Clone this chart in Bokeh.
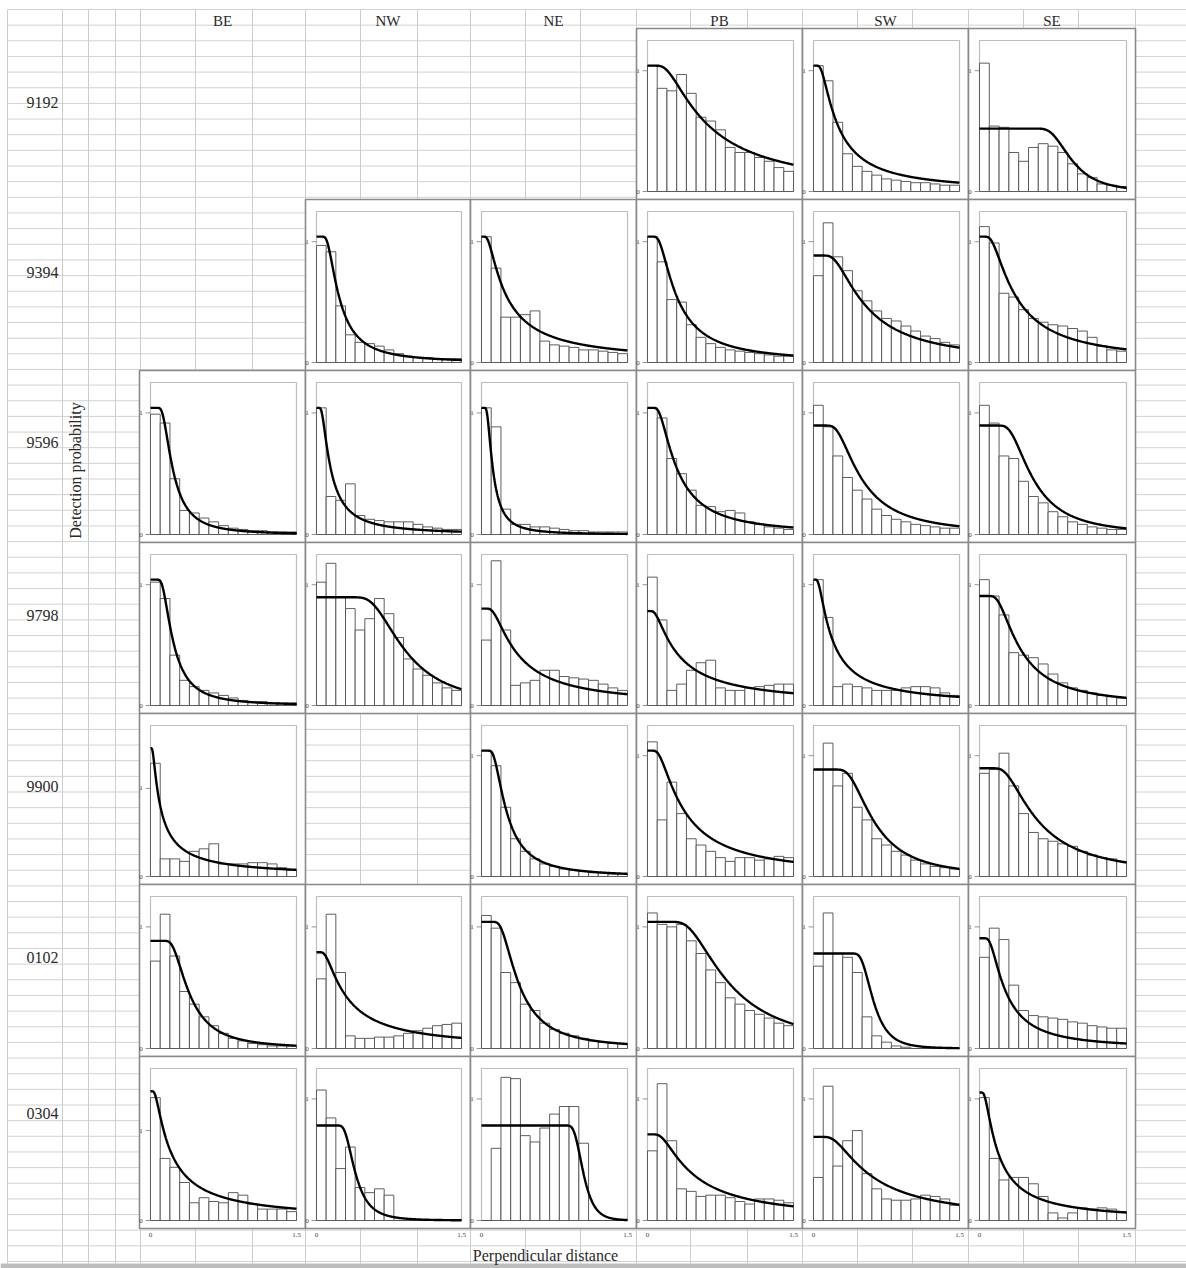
import numpy as np
from bokeh.plotting import figure
from bokeh.models import Range1d
from bokeh.core.properties import value
from bokeh.embed import file_html
from bokeh.resources import INLINE

# ---------------- data ----------------
years = ["9192", "9394", "9596", "9798", "9900", "0102", "0304"]
regions = ["BE", "NW", "NE", "PB", "SW", "SE"]
bin_edges = [0.0, 0.1, 0.2, 0.3, 0.4, 0.5, 0.6, 0.7, 0.8, 0.9, 1.0, 1.1, 1.2, 1.3, 1.4, 1.5]
x_tick_labels = ["0", "1.5"]
y_tick_labels = ["0", "1"]

# histogram bar heights (15 bins of 0.1) and fitted hazard-rate curve (height at 0, sigma, shape)
bars_9192_PB = [1.0, 0.82, 0.80, 0.93, 0.78, 0.59, 0.56, 0.49, 0.35, 0.31, 0.31, 0.27, 0.24, 0.19, 0.16]
curve_9192_PB = (1.0, 0.5, 1.3)
bars_9192_SW = [1.0, 0.88, 0.55, 0.30, 0.20, 0.16, 0.13, 0.10, 0.09, 0.08, 0.07, 0.07, 0.06, 0.05, 0.05]
curve_9192_SW = (1.0, 0.2, 1.3)
bars_9192_SE = [1.02, 0.52, 0.51, 0.31, 0.24, 0.35, 0.38, 0.36, 0.31, 0.22, 0.14, 0.11, 0.06, 0.05, 0.04]
curve_9192_SE = (0.5, 0.88, 5.3)

bars_9394_NW = [0.93, 0.88, 0.45, 0.22, 0.16, 0.15, 0.13, 0.10, 0.07, 0.05, 0.04, 0.04, 0.03, 0.03, 0.03]
curve_9394_NW = (1.0, 0.2, 1.94)
bars_9394_NE = [1.0, 0.75, 0.36, 0.36, 0.38, 0.41, 0.17, 0.14, 0.13, 0.12, 0.10, 0.10, 0.09, 0.08, 0.07]
curve_9394_NE = (1.0, 0.2, 1.14)
bars_9394_PB = [1.0, 0.80, 0.50, 0.48, 0.30, 0.20, 0.15, 0.12, 0.10, 0.09, 0.08, 0.07, 0.06, 0.05, 0.05]
curve_9394_PB = (1.0, 0.25, 1.6)
bars_9394_SW = [0.69, 1.11, 0.84, 0.73, 0.57, 0.49, 0.41, 0.35, 0.33, 0.29, 0.25, 0.21, 0.19, 0.16, 0.14]
curve_9394_SW = (0.85, 0.45, 1.58)
bars_9394_SE = [1.08, 0.95, 0.55, 0.52, 0.42, 0.35, 0.32, 0.30, 0.29, 0.27, 0.25, 0.20, 0.13, 0.10, 0.09]
curve_9394_SE = (1.0, 0.3, 1.37)

bars_9596_BE = [0.95, 0.88, 0.44, 0.19, 0.17, 0.13, 0.10, 0.07, 0.05, 0.04, 0.03, 0.03, 0.02, 0.02, 0.02]
curve_9596_BE = (1.0, 0.2, 2.3)
bars_9596_NW = [1.0, 0.30, 0.27, 0.40, 0.15, 0.12, 0.11, 0.10, 0.10, 0.10, 0.08, 0.06, 0.05, 0.04, 0.04]
curve_9596_NW = (1.0, 0.12, 1.5)
bars_9596_NE = [1.0, 0.85, 0.20, 0.08, 0.08, 0.06, 0.06, 0.05, 0.04, 0.03, 0.03, 0.02, 0.02, 0.02, 0.02]
curve_9596_NE = (1.0, 0.1, 2.0)
bars_9596_PB = [1.0, 0.92, 0.60, 0.48, 0.35, 0.23, 0.22, 0.18, 0.19, 0.17, 0.10, 0.08, 0.06, 0.05, 0.04]
curve_9596_PB = (1.0, 0.25, 1.6)
bars_9596_SW = [1.02, 0.85, 0.62, 0.45, 0.35, 0.28, 0.20, 0.15, 0.12, 0.10, 0.08, 0.07, 0.06, 0.05, 0.05]
curve_9596_SW = (0.86, 0.42, 2.0)
bars_9596_SE = [1.02, 0.88, 0.62, 0.60, 0.42, 0.30, 0.25, 0.18, 0.14, 0.10, 0.08, 0.06, 0.05, 0.04, 0.04]
curve_9596_SE = (0.86, 0.48, 2.5)

bars_9798_BE = [0.98, 0.85, 0.40, 0.20, 0.15, 0.12, 0.10, 0.08, 0.06, 0.04, 0.03, 0.03, 0.02, 0.02, 0.02]
curve_9798_BE = (1.0, 0.2, 2.2)
bars_9798_NW = [0.98, 1.13, 0.86, 0.77, 0.60, 0.69, 0.85, 0.73, 0.54, 0.37, 0.29, 0.24, 0.18, 0.14, 0.12]
curve_9798_NW = (0.86, 0.82, 3.0)
bars_9798_NE = [0.52, 1.15, 0.60, 0.16, 0.18, 0.20, 0.28, 0.28, 0.23, 0.22, 0.21, 0.20, 0.17, 0.14, 0.12]
curve_9798_NE = (0.77, 0.3, 1.3)
bars_9798_PB = [1.02, 0.68, 0.12, 0.17, 0.28, 0.34, 0.36, 0.14, 0.12, 0.12, 0.14, 0.15, 0.16, 0.17, 0.17]
curve_9798_PB = (0.75, 0.25, 1.1)
bars_9798_SW = [1.0, 0.70, 0.15, 0.17, 0.15, 0.14, 0.12, 0.12, 0.12, 0.14, 0.15, 0.15, 0.14, 0.10, 0.08]
curve_9798_SW = (1.0, 0.15, 1.15)
bars_9798_SE = [1.0, 0.87, 0.72, 0.42, 0.40, 0.38, 0.33, 0.25, 0.18, 0.14, 0.12, 0.10, 0.08, 0.07, 0.06]
curve_9798_SE = (0.87, 0.35, 1.8)

bars_9900_BE = [0.90, 0.14, 0.14, 0.12, 0.20, 0.22, 0.26, 0.10, 0.10, 0.10, 0.11, 0.11, 0.10, 0.07, 0.05]
curve_9900_BE = (1.02, 0.08, 1.0)
bars_9900_NE = [1.0, 0.88, 0.55, 0.30, 0.20, 0.14, 0.10, 0.08, 0.06, 0.05, 0.04, 0.03, 0.03, 0.02, 0.02]
curve_9900_NE = (1.0, 0.22, 2.0)
bars_9900_PB = [1.07, 0.45, 0.75, 0.50, 0.30, 0.25, 0.20, 0.15, 0.12, 0.15, 0.15, 0.13, 0.14, 0.16, 0.15]
curve_9900_PB = (1.0, 0.3, 1.3)
bars_9900_SW = [0.85, 1.06, 0.72, 0.82, 0.55, 0.45, 0.30, 0.25, 0.20, 0.17, 0.13, 0.10, 0.08, 0.07, 0.06]
curve_9900_SW = (0.85, 0.55, 2.6)
bars_9900_SE = [0.82, 0.85, 0.98, 0.72, 0.50, 0.35, 0.30, 0.28, 0.26, 0.24, 0.20, 0.17, 0.15, 0.14, 0.12]
curve_9900_SE = (0.86, 0.5, 1.8)

bars_0102_BE = [0.69, 1.06, 0.73, 0.45, 0.35, 0.25, 0.18, 0.12, 0.08, 0.06, 0.04, 0.03, 0.02, 0.02, 0.02]
curve_0102_BE = (0.85, 0.35, 2.5)
bars_0102_NW = [0.55, 1.06, 0.60, 0.10, 0.08, 0.08, 0.09, 0.09, 0.10, 0.12, 0.14, 0.16, 0.18, 0.19, 0.20]
curve_0102_NW = (0.76, 0.25, 1.2)
bars_0102_NE = [1.05, 0.95, 0.60, 0.52, 0.35, 0.30, 0.20, 0.15, 0.12, 0.10, 0.08, 0.06, 0.05, 0.04, 0.04]
curve_0102_NE = (1.0, 0.33, 2.2)
bars_0102_PB = [1.07, 0.98, 0.96, 0.98, 0.85, 0.75, 0.62, 0.52, 0.40, 0.35, 0.30, 0.27, 0.24, 0.20, 0.18]
curve_0102_PB = (1.0, 0.72, 2.1)
bars_0102_SW = [0.65, 1.07, 0.75, 0.72, 0.60, 0.25, 0.10, 0.05, 0.02, 0.01, 0.0, 0.0, 0.0, 0.0, 0.0]
curve_0102_SW = (0.75, 0.58, 6.0)
bars_0102_SE = [0.72, 0.95, 0.86, 0.50, 0.30, 0.26, 0.25, 0.24, 0.23, 0.21, 0.20, 0.18, 0.17, 0.16, 0.16]
curve_0102_SE = (0.87, 0.22, 1.6)

bars_0304_BE = [0.97, 0.49, 0.42, 0.30, 0.14, 0.18, 0.15, 0.14, 0.22, 0.20, 0.13, 0.09, 0.09, 0.09, 0.07]
curve_0304_BE = (1.02, 0.16, 1.05)
bars_0304_NW = [1.03, 0.81, 0.41, 0.58, 0.26, 0.22, 0.25, 0.20, 0.0, 0.0, 0.0, 0.0, 0.0, 0.0, 0.0]
curve_0304_NW = (0.75, 0.37, 4.3)
bars_0304_NE = [0.0, 0.57, 1.13, 1.12, 0.67, 0.62, 0.73, 0.84, 0.90, 0.90, 0.61, 0.0, 0.0, 0.0, 0.0]
curve_0304_NE = (0.75, 1.02, 14.0)
bars_0304_PB = [0.55, 1.08, 0.63, 0.25, 0.23, 0.19, 0.20, 0.20, 0.18, 0.15, 0.13, 0.17, 0.17, 0.16, 0.14]
curve_0304_PB = (0.68, 0.38, 1.25)
bars_0304_SW = [0.34, 1.06, 0.43, 0.63, 0.71, 0.37, 0.25, 0.17, 0.16, 0.16, 0.17, 0.20, 0.19, 0.17, 0.12]
curve_0304_SW = (0.66, 0.49, 1.4)
bars_0304_SE = [0.97, 0.49, 0.32, 0.34, 0.34, 0.29, 0.19, 0.06, 0.02, 0.06, 0.10, 0.09, 0.10, 0.09, 0.07]
curve_0304_SE = (1.01, 0.15, 1.19)

# value of the upper y tick in each panel (default for all, some panels differ)
ytick_default = 0.96
ytick_special = {("9900", "BE"): 0.70, ("0304", "BE"): 0.71}

panels = {}
for _y in years:
    for _r in regions:
        _b = globals().get(f"bars_{_y}_{_r}")
        if _b is not None:
            panels[(_y, _r)] = (_b, globals()[f"curve_{_y}_{_r}"])

# ---------------- layout ----------------
W, H = 1186, 1268
YMAX = 1.2
col_left = [139, 305, 470, 636, 802, 968, 1135]
row_top = [28, 199, 370, 542, 713, 884, 1056, 1228]
FONT = "Liberation Serif"

p = figure(width=W, height=H, x_range=Range1d(0, W), y_range=Range1d(H, 0),
           toolbar_location=None, output_backend="svg", min_border=0)
p.axis.visible = False
p.grid.visible = False
p.outline_line_color = None
p.background_fill_color = "white"

# spreadsheet-like background grid
hy = np.arange(9, 1264, 15.65)
p.segment(x0=[7] * len(hy), x1=[W] * len(hy), y0=hy, y1=hy, line_color="#d2d2d2", line_width=1)
vx = [7, 62, 88, 115, 140, 195, 252, 305, 360, 417, 470, 525, 580, 636, 690, 747,
      802, 857, 912, 968, 1023, 1078, 1135]
p.segment(x0=vx, x1=vx, y0=[9] * len(vx), y1=[1263] * len(vx), line_color="#cdcdcd", line_width=1)
p.quad(left=[0], right=[W], top=[1263], bottom=[H], fill_color="#bdbdbd", line_color=None)

# panel boxes
for (yr, rg) in panels:
    i, j = years.index(yr), regions.index(rg)
    L, R = col_left[j], col_left[j + 1]
    T, B = row_top[i], row_top[i + 1]
    p.quad(left=[L], right=[R], top=[T], bottom=[B], fill_color="white",
           line_color="#8a8a8a", line_width=1.6)
    p.quad(left=[L + 11], right=[R - 9], top=[T + 12], bottom=[B - 8], fill_color="white",
           line_color="#bdbdbd", line_width=1.2)

edges = np.array(bin_edges)
for (yr, rg), (bars, curve) in panels.items():
    i, j = years.index(yr), regions.index(rg)
    fl, fr = col_left[j] + 11, col_left[j + 1] - 9
    ft, fb = row_top[i] + 12, row_top[i + 1] - 8
    sx = 1.5 / (fr - fl)
    sy = YMAX / (fb - ft)
    xn, yn = f"x_{yr}_{rg}", f"y_{yr}_{rg}"
    p.extra_x_ranges[xn] = Range1d(-fl * sx, (W - fl) * sx)
    p.extra_y_ranges[yn] = Range1d((fb - H) * sy, fb * sy)
    kw = dict(x_range_name=xn, y_range_name=yn)
    p.quad(left=edges[:-1], right=edges[1:], bottom=0, top=bars, fill_color="white",
           line_color="#4d4d4d", line_width=0.9, **kw)
    g0, sig, shp = curve
    xs = np.linspace(0, 1.5, 301)
    with np.errstate(divide="ignore", over="ignore"):
        gx = g0 * (1 - np.exp(-np.power(np.maximum(xs, 1e-9) / sig, -shp)))
    p.line(xs, gx, line_color="black", line_width=2.4, **kw)
    # y ticks
    yt = ytick_special.get((yr, rg), ytick_default)
    p.segment(x0=[-0.05, -0.05], x1=[0, 0], y0=[0, yt], y1=[0, yt], line_color="#777", line_width=0.8, **kw)
    p.text(x=[-0.08, -0.08], y=[0, yt], text=y_tick_labels, text_font=value(FONT), text_font_size="7px",
           text_color="#444", text_align="right", text_baseline="middle", **kw)
    if i == len(years) - 1:
        p.text(x=[0, 1.5], y=[-0.1, -0.1], text=x_tick_labels, text_font=value(FONT),
               text_font_size="7px", text_color="#444", text_align="center", text_baseline="top", **kw)

# headers and labels
col_centres = [(col_left[k] + col_left[k + 1]) / 2 for k in range(6)]
p.text(x=col_centres, y=[20] * 6, text=regions, text_font=value(FONT), text_font_size="15px",
       text_color="#2a2a2a", text_align="center", text_baseline="middle")
row_label_y = [102, 272, 442, 615, 786, 957, 1113]
p.text(x=[42] * 7, y=row_label_y, text=years, text_font=value(FONT), text_font_size="16px",
       text_color="#2a2a2a", text_align="center", text_baseline="middle")
p.text(x=[75], y=[470], text=["Detection probability"], angle=np.pi / 2, text_font=value(FONT),
       text_font_size="16px", text_color="#2a2a2a", text_align="center", text_baseline="middle")
p.text(x=[545], y=[1255], text=["Perpendicular distance"], text_font=value(FONT),
       text_font_size="16px", text_color="#2a2a2a", text_align="center", text_baseline="middle")

open("out.html", "w").write(file_html(p, INLINE))
